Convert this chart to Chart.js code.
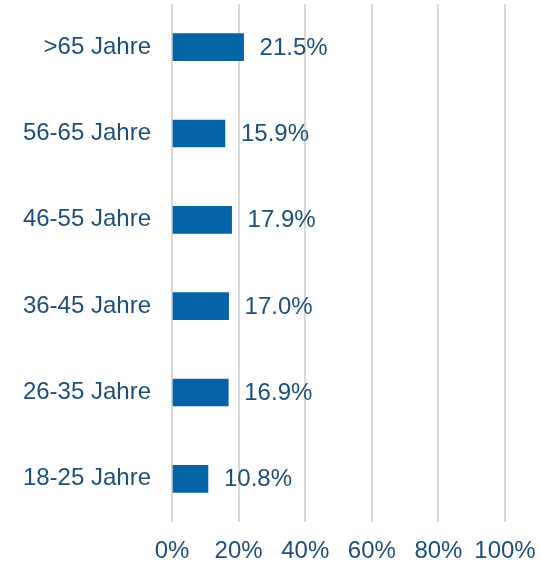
<!DOCTYPE html>
<html>
<head>
<meta charset="utf-8">
<script src="https://cdn.jsdelivr.net/npm/chart.js@4"></script>
<style>
  html, body { margin: 0; padding: 0; background: #fff; }
  #wrap { width: 541px; height: 563px; }
</style>
</head>
<body>
<div id="wrap"><canvas id="chart" width="541" height="563"></canvas></div>
<script>
const categories = ['>65 Jahre', '56-65 Jahre', '46-55 Jahre', '36-45 Jahre', '26-35 Jahre', '18-25 Jahre'];
const shares = [21.5, 15.9, 17.9, 17.0, 16.9, 10.8];
const xTicks = [0, 20, 40, 60, 80, 100];

const textColor = '#1f4e79';
const fontFamily = '"Liberation Sans", Arial, sans-serif';

// value labels right of each bar
const valueLabels = {
  id: 'valueLabels',
  afterDatasetsDraw(chart) {
    const ctx = chart.ctx;
    const meta = chart.getDatasetMeta(0);
    ctx.save();
    ctx.font = '24px ' + fontFamily;
    ctx.fillStyle = textColor;
    ctx.textAlign = 'left';
    ctx.textBaseline = 'middle';
    meta.data.forEach((bar, i) => {
      ctx.fillText(shares[i].toFixed(1) + '%', bar.x + 16, bar.y + 1);
    });
    ctx.restore();
  }
};

new Chart(document.getElementById('chart'), {
  type: 'bar',
  data: {
    labels: categories,
    datasets: [{
      data: shares,
      backgroundColor: '#0563a8',
      barThickness: 27
    }]
  },
  options: {
    indexAxis: 'y',
    responsive: false,
    animation: false,
    layout: { padding: { top: 4, right: 0, left: 0, bottom: 0 } },
    plugins: {
      legend: { display: false },
      tooltip: { enabled: false }
    },
    scales: {
      x: {
        min: 0,
        max: 100,
        afterBuildTicks: axis => { axis.ticks = xTicks.map(v => ({ value: v })); },
        afterFit: axis => {
          axis.height = 41;
          axis.paddingLeft = 0;
          axis.paddingRight = 36;
        },
        grid: { color: '#d9d9d9', lineWidth: 2, drawTicks: false },
        border: { display: false },
        ticks: {
          color: textColor,
          font: { size: 24, family: fontFamily },
          padding: 15,
          callback: v => v + '%'
        }
      },
      y: {
        grid: { display: false, drawTicks: false },
        border: { display: false },
        afterFit: axis => {
          axis.width = 172;
          axis.paddingTop = 0;
          axis.paddingBottom = 0;
        },
        ticks: {
          color: textColor,
          font: { size: 24, family: fontFamily },
          padding: 21
        }
      }
    }
  },
  plugins: [valueLabels]
});
</script>
</body>
</html>
